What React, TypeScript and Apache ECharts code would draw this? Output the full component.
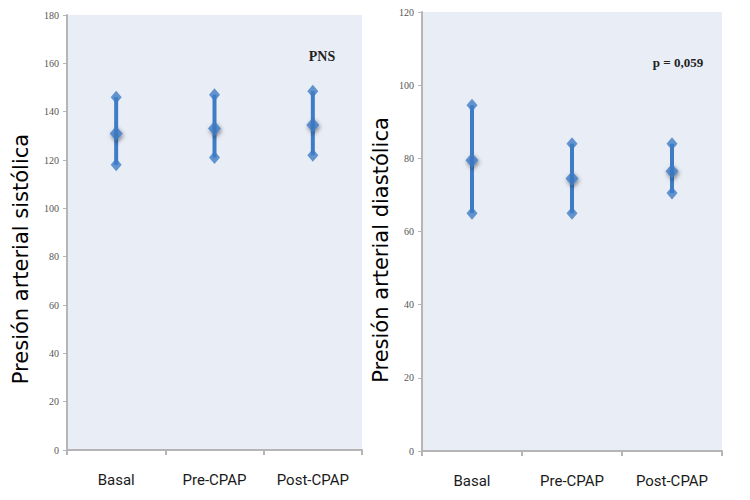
import React, { useEffect, useRef } from "react";
import * as echarts from "echarts";

const categories = ["Basal", "Pre-CPAP", "Post-CPAP"];

const sysHigh = [146, 147, 148.5];
const sysMean = [131, 133, 134.5];
const sysLow = [118, 121, 122];

const diaHigh = [94.5, 84, 84];
const diaMean = [79.5, 74.5, 76.5];
const diaLow = [65, 65, 70.5];

const sysAxis = { min: 0, max: 180, interval: 20 };
const diaAxis = { min: 0, max: 120, interval: 20 };

const sysTitle = "Presión arterial sistólica";
const diaTitle = "Presión arterial diastólica";
const sysNote = "PNS";
const diaNote = "p = 0,059";

const BLUE = "#3F7CC6";
const BG = "#E9EDF5";
const AXIS = "#B5B5B5";

function barSeries(idx: number, low: number[], high: number[]) {
  return {
    type: "custom",
    xAxisIndex: idx,
    yAxisIndex: idx,
    data: categories.map((_, i) => [i, low[i], high[i]]),
    encode: { x: 0, y: [1, 2] },
    renderItem: (_p: any, api: any) => {
      const a = api.coord([api.value(0), api.value(1)]);
      const b = api.coord([api.value(0), api.value(2)]);
      return {
        type: "line",
        shape: { x1: a[0], y1: a[1], x2: b[0], y2: b[1] },
        style: { stroke: BLUE, lineWidth: 4 },
      };
    },
    z: 2,
  };
}

function pointSeries(idx: number, vals: number[], mean: boolean) {
  return {
    type: "scatter",
    xAxisIndex: idx,
    yAxisIndex: idx,
    data: categories.map((_, i) => [i, vals[i]]),
    symbol: "diamond",
    symbolSize: mean ? [13, 15] : [11, 13],
    itemStyle: mean
      ? {
          color: BLUE,
          shadowColor: "rgba(0,0,0,0.55)",
          shadowBlur: 4,
          shadowOffsetX: 1,
          shadowOffsetY: 2,
        }
      : { color: BLUE },
    z: mean ? 4 : 3,
  };
}

function xAx(idx: number) {
  return {
    type: "category",
    gridIndex: idx,
    data: categories,
    boundaryGap: true,
    axisLine: { show: true, lineStyle: { color: AXIS, width: 2 } },
    axisTick: { show: true, length: 5, lineStyle: { color: AXIS, width: 2 } },
    axisLabel: {
      margin: 22,
      color: "#1a1a1a",
      fontSize: 15,
      fontFamily: "Roboto",
    },
    splitLine: { show: false },
  };
}

function yAx(idx: number, ax: { min: number; max: number; interval: number }) {
  return {
    type: "value",
    gridIndex: idx,
    min: ax.min,
    max: ax.max,
    interval: ax.interval,
    axisLine: { show: true, lineStyle: { color: AXIS, width: 2 } },
    axisTick: { show: true, length: 4, lineStyle: { color: AXIS, width: 1 } },
    axisLabel: {
      margin: 8,
      color: "#555",
      fontSize: 10,
      fontFamily: "Liberation Serif",
    },
    splitLine: { show: false },
  };
}

function title(text: string, x: number, y: number) {
  return {
    type: "text",
    x,
    y,
    rotation: Math.PI / 2,
    style: {
      text,
      font: "21px 'DejaVu Sans', sans-serif",
      fill: "#000",
      align: "center",
      verticalAlign: "middle",
    },
  };
}

export default function App() {
  const ref = useRef<HTMLDivElement>(null);
  useEffect(() => {
    if (!ref.current) return;
    const chart = echarts.init(ref.current, undefined, { renderer: "svg" });
    chart.setOption({
      animation: false,
      backgroundColor: "#ffffff",
      grid: [
        { left: 67, right: 388, top: 15, bottom: 50, show: true, backgroundColor: BG, borderWidth: 0 },
        { left: 422, right: 28, top: 12, bottom: 49, show: true, backgroundColor: BG, borderWidth: 0 },
      ],
      xAxis: [xAx(0), xAx(1)],
      yAxis: [yAx(0, sysAxis), yAx(1, diaAxis)],
      series: [
        barSeries(0, sysLow, sysHigh),
        pointSeries(0, sysHigh, false),
        pointSeries(0, sysLow, false),
        pointSeries(0, sysMean, true),
        barSeries(1, diaLow, diaHigh),
        pointSeries(1, diaHigh, false),
        pointSeries(1, diaLow, false),
        pointSeries(1, diaMean, true),
      ],
      graphic: [
        title(sysTitle, 21, 259),
        title(diaTitle, 381, 250),
        {
          type: "text",
          x: 322,
          y: 56,
          style: {
            text: sysNote,
            fontSize: 14,
            fontWeight: "bold",
            fontFamily: "Liberation Serif",
            fill: "#222",
            align: "center",
            verticalAlign: "middle",
          },
        },
        {
          type: "text",
          x: 678,
          y: 62,
          style: {
            text: diaNote,
            fontSize: 13,
            fontWeight: "bold",
            fontFamily: "Liberation Serif",
            fill: "#222",
            align: "center",
            verticalAlign: "middle",
          },
        },
      ],
    });
    return () => chart.dispose();
  }, []);
  return (
    <div
      ref={ref}
      style={{ position: "fixed", left: 0, top: 0, width: 750, height: 500 }}
    />
  );
}
